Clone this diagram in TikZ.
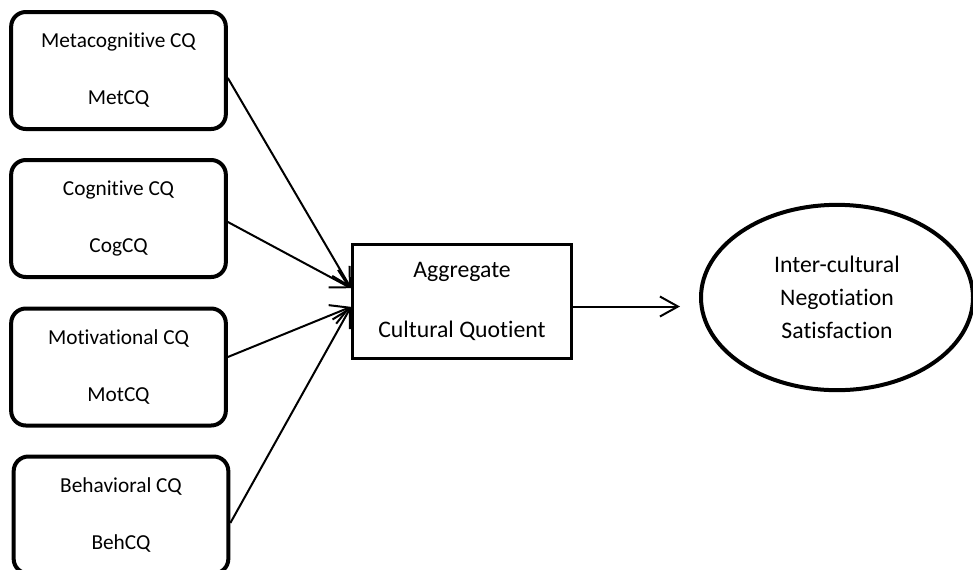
\documentclass[tikz,border=0pt]{standalone}
\usepackage{fontspec}
\setmainfont{Carlito}[Ligatures=NoCommon]
\usepackage{tikz}
\usetikzlibrary{arrows.meta, positioning, shapes.geometric}

\begin{document}
\begin{tikzpicture}[x=0.75pt, y=-0.75pt,
    cqbox/.style={draw, line width=3pt, rounded corners=11pt, minimum width=161pt, minimum height=87.75pt, align=center, font=\fontsize{16}{19.2}\selectfont},
    link/.style={line width=1.5pt, -{Straight Barb[length=13.5pt, width=15pt]}}]
    \useasboundingbox (0,0) rectangle (973,569);
    % the four CQ factors
    \node[cqbox] (met) at (118.5, 70.5) {Metacognitive CQ\\[23.5pt]MetCQ};
    \node[cqbox] (cog) at (118.5, 218.5) {Cognitive CQ\\[23.5pt]CogCQ};
    \node[cqbox] (mot) at (118.5, 367) {Motivational CQ\\[23.5pt]MotCQ};
    \node[cqbox] (beh) at (121, 515) {Behavioral CQ\\[23.5pt]BehCQ};
    % aggregate and outcome
    \node[draw, line width=2.5pt, minimum width=164pt, minimum height=85.5pt, align=center, font=\fontsize{17.8}{21.4}\selectfont] (acq) at (462, 301.5) {Aggregate\\[23.6pt]Cultural Quotient};
    \node[ellipse, draw, line width=3pt, minimum width=204pt, minimum height=139pt, align=center, font=\fontsize{17.8}{24.75}\selectfont] (ins) at (837, 297.5) {Inter-cultural\\Negotiation\\Satisfaction};
    \draw[link] ([yshift=-5.6pt]met.east) -- ([yshift=10pt]acq.west);
    \draw[link] ([yshift=-2.6pt]cog.east) -- ([yshift=10pt]acq.west);
    \draw[link] ([yshift=7.5pt]mot.east) -- ([yshift=-4pt]acq.west);
    \draw[link] ([yshift=-6pt]beh.east) -- ([yshift=-4pt]acq.west);
    \draw[link, shorten >=14.25pt] ([yshift=-3.75pt]acq.east) -- ([yshift=-6.75pt]ins.west);
\end{tikzpicture}
\end{document}
